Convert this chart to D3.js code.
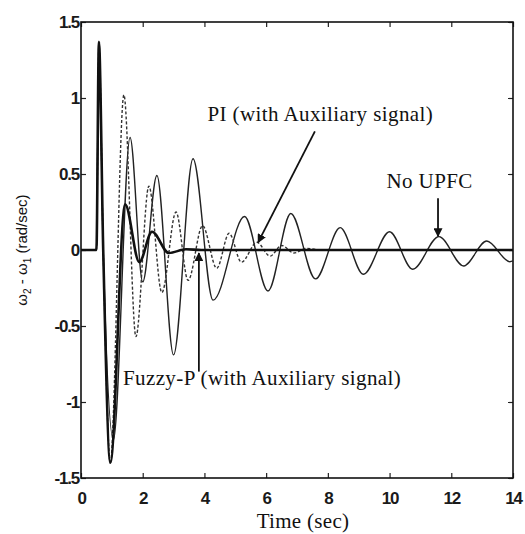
<!DOCTYPE html>
<html>
<head>
<meta charset="utf-8">
<script src="https://cdn.jsdelivr.net/npm/d3@7"></script>
<style>
  body { margin: 0; background: #fff; }
  svg { display: block; }
</style>
</head>
<body>
<script>
// time (sec), w2 - w1 (rad/sec) at peaks / troughs
const noUpfc = [
  [0, 0], [0.5, 0], [0.58, 1.37], [0.72, 0], [1.05, -1.25], [1.59, 0.74],
  [2.0, -0.21], [2.46, 0.49], [3.0, -0.69], [3.63, 0.6], [4.28, -0.33],
  [5.3, 0.22], [6.06, -0.27], [6.8, 0.24], [7.6, -0.19], [8.4, 0.147],
  [9.15, -0.16], [10.0, 0.12], [10.75, -0.127], [11.6, 0.088],
  [12.4, -0.105], [13.15, 0.059], [13.9, -0.077], [14, -0.072]
];
const piAux = [
  [0, 0], [0.5, 0], [0.58, 1.37], [0.72, 0], [0.95, -1.4], [1.39, 1.02],
  [1.78, -0.57], [2.2, 0.42], [2.62, -0.28], [3.08, 0.25], [3.47, -0.2],
  [3.94, 0.16], [4.4, -0.12], [4.8, 0.11], [5.2, -0.08], [5.7, 0.05],
  [6.13, -0.04], [6.5, 0.03], [6.9, -0.02], [7.3, 0.01], [7.8, 0], [14, 0]
];
const fuzzyAux = [
  [0, 0], [0.5, 0], [0.58, 1.37], [0.72, 0], [0.95, -1.4], [1.43, 0.3],
  [1.89, -0.08], [2.3, 0.12], [2.85, -0.02], [3.4, 0.005], [3.9, 0], [14, 0]
];

const xTicks = [0, 2, 4, 6, 8, 10, 12, 14];
const yTicks = [1.5, 1, 0.5, 0, -0.5, -1, -1.5];
const yTickLabels = ["1.5", "1", "0.5", "0", "-0.5", "-1", "-1.5"];

// annotations: label, text anchor point, arrow start, arrow tip (data units)
const notes = [
  { text: "PI (with Auxiliary signal)", at: [4.1, 0.85], from: [7.58, 0.78], to: [5.74, 0.05] },
  { text: "No UPFC", at: [9.9, 0.41], from: [11.57, 0.34], to: [11.57, 0.09] },
  { text: "Fuzzy-P (with Auxiliary signal)", at: [1.36, -0.89], from: [3.82, -0.8], to: [3.82, -0.02] }
];

const width = 525, height = 534;
const margin = { top: 22, right: 12, bottom: 56, left: 81 };

const svg = d3.select("body").append("svg")
  .attr("width", width).attr("height", height);

const x = d3.scaleLinear().domain([0, 14]).range([margin.left, width - margin.right]);
const y = d3.scaleLinear().domain([-1.5, 1.5]).range([height - margin.bottom, margin.top]);

const tickFont = "'Liberation Sans', Arial, sans-serif";
const serif = "'Liberation Serif', 'Times New Roman', serif";

// bottom axis, inward ticks
const gx = svg.append("g")
  .attr("transform", `translate(0,${y(-1.5)})`)
  .call(d3.axisBottom(x).tickValues(xTicks).tickFormat(d3.format("d"))
    .tickSizeInner(-5).tickSizeOuter(0).tickPadding(14));
gx.select(".domain").remove();

const gt = svg.append("g")
  .attr("transform", `translate(0,${y(1.5)})`)
  .call(d3.axisTop(x).tickValues(xTicks).tickFormat("").tickSizeInner(-5).tickSizeOuter(0));
gt.select(".domain").remove();

const gy = svg.append("g")
  .attr("transform", `translate(${x(0)},0)`)
  .call(d3.axisLeft(y).tickValues(yTicks).tickFormat((d, i) => yTickLabels[i])
    .tickSizeInner(-5).tickSizeOuter(0).tickPadding(2));
gy.select(".domain").remove();

const gr = svg.append("g")
  .attr("transform", `translate(${x(14)},0)`)
  .call(d3.axisRight(y).tickValues(yTicks).tickFormat("").tickSizeInner(-5).tickSizeOuter(0));
gr.select(".domain").remove();

svg.selectAll(".tick text")
  .attr("font-size", 17).attr("font-family", tickFont)
  .attr("font-weight", "bold").attr("letter-spacing", -1.2)
  .attr("fill", "#1a1a1a");
svg.selectAll(".tick line").attr("stroke", "#222").attr("stroke-width", 1.2);

// frame
svg.append("rect")
  .attr("x", x(0)).attr("y", y(1.5))
  .attr("width", x(14) - x(0)).attr("height", y(-1.5) - y(1.5))
  .attr("fill", "none").attr("stroke", "#111").attr("stroke-width", 1.6);

const line = d3.line()
  .x(d => x(d[0])).y(d => y(d[1]))
  .curve(d3.curveMonotoneX);

svg.append("path").datum(noUpfc)
  .attr("d", line).attr("fill", "none")
  .attr("stroke", "#222").attr("stroke-width", 1.4);

svg.append("path").datum(piAux)
  .attr("d", line).attr("fill", "none")
  .attr("stroke", "#333").attr("stroke-width", 1.4)
  .attr("stroke-dasharray", "3,2");

svg.append("path").datum(fuzzyAux)
  .attr("d", line).attr("fill", "none")
  .attr("stroke", "#111").attr("stroke-width", 2.6);

// arrows
svg.append("defs").append("marker")
  .attr("id", "head")
  .attr("viewBox", "0 0 10 10")
  .attr("refX", 9).attr("refY", 5)
  .attr("markerWidth", 9).attr("markerHeight", 9)
  .attr("markerUnits", "userSpaceOnUse")
  .attr("orient", "auto")
  .append("path").attr("d", "M0,0L10,5L0,10Z").attr("fill", "#111");

svg.selectAll(".arrow").data(notes).enter().append("line")
  .attr("class", "arrow")
  .attr("x1", d => x(d.from[0])).attr("y1", d => y(d.from[1]))
  .attr("x2", d => x(d.to[0])).attr("y2", d => y(d.to[1]))
  .attr("stroke", "#111").attr("stroke-width", 1.8)
  .attr("marker-end", "url(#head)");

svg.selectAll(".note").data(notes).enter().append("text")
  .attr("class", "note")
  .attr("x", d => x(d.at[0])).attr("y", d => y(d.at[1]))
  .attr("font-family", serif)
  .attr("font-size", 21).attr("letter-spacing", 0.4).attr("fill", "#111")
  .text(d => d.text);

// axis titles
svg.append("text")
  .attr("x", 303).attr("y", 528)
  .attr("text-anchor", "middle")
  .attr("font-family", serif)
  .attr("font-size", 21).attr("letter-spacing", 0.3).attr("fill", "#111")
  .text("Time (sec)");

const yl = svg.append("text")
  .attr("transform", `translate(27,${y(0)}) rotate(-90)`)
  .attr("text-anchor", "middle")
  .attr("font-family", "'Liberation Sans', Arial, sans-serif")
  .attr("font-size", 15).attr("fill", "#111");
yl.append("tspan").text("ω");
yl.append("tspan").attr("font-size", 10).attr("dy", 4).text("2");
yl.append("tspan").attr("dy", -4).text(" - ω");
yl.append("tspan").attr("font-size", 10).attr("dy", 4).text("1");
yl.append("tspan").attr("dy", -4).text(" (rad/sec)");
</script>
</body>
</html>
